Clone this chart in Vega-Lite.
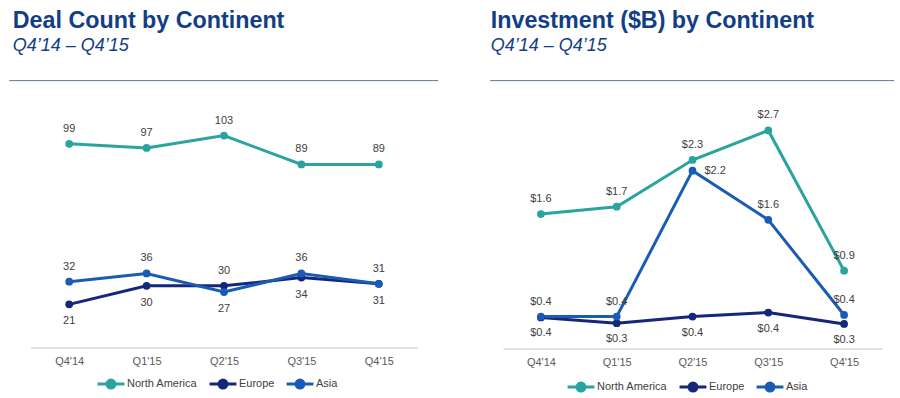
{
  "$schema": "https://vega.github.io/schema/vega-lite/v6.json",
  "background": "white",
  "padding": {"left": 8, "top": 8.6, "right": 5, "bottom": 0},
  "config": {
    "view": {"stroke": null},
    "font": "Liberation Sans",
    "title": {"anchor": "start", "fontSize": 23.3, "fontWeight": "bold", "color": "#123E85", "subtitleFontSize": 18, "subtitleFontStyle": "italic", "subtitleColor": "#123E85", "subtitlePadding": 3.9, "offset": 24.2},
    "axisX": {"title": null, "domainColor": "#D9D9D9", "domainWidth": 1.5, "ticks": false, "labelColor": "#595959", "labelFontSize": 11, "labelPadding": 8, "labelAngle": 0, "grid": false},
    "legend": {"orient": "none", "direction": "horizontal", "title": null, "labelFontSize": 11, "labelColor": "#404040", "symbolType": "M-1.9,0L1.9,0M-0.57,0A0.57,0.57,0,1,0,0.57,0A0.57,0.57,0,1,0,-0.57,0Z", "symbolSize": 200, "symbolStrokeWidth": 3, "labelOffset": 7, "columnPadding": 5}
  },
  "datasets": {
    "deals": [
      {"quarter": "Q4'14", "continent": "North America", "value": 99},
      {"quarter": "Q1'15", "continent": "North America", "value": 97},
      {"quarter": "Q2'15", "continent": "North America", "value": 103},
      {"quarter": "Q3'15", "continent": "North America", "value": 89},
      {"quarter": "Q4'15", "continent": "North America", "value": 89},
      {"quarter": "Q4'14", "continent": "Europe", "value": 21},
      {"quarter": "Q1'15", "continent": "Europe", "value": 30},
      {"quarter": "Q2'15", "continent": "Europe", "value": 30},
      {"quarter": "Q3'15", "continent": "Europe", "value": 34},
      {"quarter": "Q4'15", "continent": "Europe", "value": 31},
      {"quarter": "Q4'14", "continent": "Asia", "value": 32},
      {"quarter": "Q1'15", "continent": "Asia", "value": 36},
      {"quarter": "Q2'15", "continent": "Asia", "value": 27},
      {"quarter": "Q3'15", "continent": "Asia", "value": 36},
      {"quarter": "Q4'15", "continent": "Asia", "value": 31}
    ],
    "invest": [
      {"quarter": "Q4'14", "continent": "North America", "value": 1.64},
      {"quarter": "Q1'15", "continent": "North America", "value": 1.73},
      {"quarter": "Q2'15", "continent": "North America", "value": 2.30},
      {"quarter": "Q3'15", "continent": "North America", "value": 2.66},
      {"quarter": "Q4'15", "continent": "North America", "value": 0.95},
      {"quarter": "Q4'14", "continent": "Europe", "value": 0.38},
      {"quarter": "Q1'15", "continent": "Europe", "value": 0.31},
      {"quarter": "Q2'15", "continent": "Europe", "value": 0.39},
      {"quarter": "Q3'15", "continent": "Europe", "value": 0.44},
      {"quarter": "Q4'15", "continent": "Europe", "value": 0.30},
      {"quarter": "Q4'14", "continent": "Asia", "value": 0.39},
      {"quarter": "Q1'15", "continent": "Asia", "value": 0.39},
      {"quarter": "Q2'15", "continent": "Asia", "value": 2.17},
      {"quarter": "Q3'15", "continent": "Asia", "value": 1.57},
      {"quarter": "Q4'15", "continent": "Asia", "value": 0.41}
    ]
  },
  "spacing": 50,
  "resolve": {"scale": {"color": "independent", "x": "independent", "y": "independent"}, "legend": {"color": "independent"}},
  "hconcat": [
    {
      "spacing": 19,
      "center": true,
      "resolve": {"scale": {"x": "independent", "y": "independent"}},
      "vconcat": [
        {
          "width": 429, "height": 1,
          "title": {"text": "Deal Count by Continent", "subtitle": "Q4’14 – Q4’15", "dx": 4},
          "data": {"values": [{}]},
          "mark": {"type": "rule", "color": "#5F7798", "strokeWidth": 1},
          "encoding": {"y": {"datum": 1, "type": "quantitative", "scale": {"domain": [0, 1]}, "axis": null}}
        },
        {
          "width": 387, "height": 247,
          "data": {"name": "deals"},
          "encoding": {
            "x": {"field": "quarter", "type": "ordinal", "sort": ["Q4'14", "Q1'15", "Q2'15", "Q3'15", "Q4'15"]},
            "y": {"field": "value", "type": "quantitative", "scale": {"domain": [0, 120]}, "axis": null},
            "color": {"field": "continent", "type": "nominal", "scale": {"domain": ["North America", "Europe", "Asia"], "range": ["#2BA3A0", "#14277A", "#1A5BB5"]}, "legend": {"legendX": 93, "legendY": 294}}
          },
          "layer": [
            {"mark": {"type": "line", "strokeWidth": 3}},
            {"mark": {"type": "circle", "size": 60, "opacity": 1}},
            {
              "transform": [{"filter": "datum.continent == 'North America' || (datum.continent == 'Asia' && datum.quarter != \"Q2'15\") || (datum.continent == 'Europe' && datum.quarter == \"Q2'15\")"}],
              "mark": {"type": "text", "dy": -15, "fontSize": 11, "color": "#404040"},
              "encoding": {"text": {"field": "value", "type": "quantitative"}, "color": {"value": "#404040"}}
            },
            {
              "transform": [{"filter": "(datum.continent == 'Europe' && datum.quarter != \"Q2'15\") || (datum.continent == 'Asia' && datum.quarter == \"Q2'15\")"}],
              "mark": {"type": "text", "dy": 17, "fontSize": 11, "color": "#404040"},
              "encoding": {"text": {"field": "value", "type": "quantitative"}, "color": {"value": "#404040"}}
            }
          ]
        }
      ]
    },
    {
      "spacing": 21,
      "center": true,
      "resolve": {"scale": {"x": "independent", "y": "independent"}},
      "vconcat": [
        {
          "width": 404, "height": 1,
          "title": {"text": "Investment ($B) by Continent", "subtitle": "Q4’14 – Q4’15", "dx": 1},
          "data": {"values": [{}]},
          "mark": {"type": "rule", "color": "#5F7798", "strokeWidth": 1},
          "encoding": {"y": {"datum": 1, "type": "quantitative", "scale": {"domain": [0, 1]}, "axis": null}}
        },
        {
          "width": 379, "height": 246,
          "data": {"name": "invest"},
          "encoding": {
            "x": {"field": "quarter", "type": "ordinal", "sort": ["Q4'14", "Q1'15", "Q2'15", "Q3'15", "Q4'15"]},
            "y": {"field": "value", "type": "quantitative", "scale": {"domain": [0, 3]}, "axis": null},
            "color": {"field": "continent", "type": "nominal", "scale": {"domain": ["North America", "Europe", "Asia"], "range": ["#2BA3A0", "#14277A", "#1A5BB5"]}, "legend": {"legendX": 82, "legendY": 297}}
          },
          "layer": [
            {"mark": {"type": "line", "strokeWidth": 3}},
            {"mark": {"type": "circle", "size": 60, "opacity": 1}},
            {
              "transform": [{"filter": "datum.continent == 'North America' || (datum.continent == 'Asia' && datum.quarter != \"Q2'15\")"}],
              "mark": {"type": "text", "dy": -15, "fontSize": 11, "color": "#404040"},
              "encoding": {"text": {"field": "value", "type": "quantitative", "format": "$.1f"}, "color": {"value": "#404040"}}
            },
            {
              "transform": [{"filter": "datum.continent == 'Asia' && datum.quarter == \"Q2'15\""}],
              "mark": {"type": "text", "dx": 12, "align": "left", "fontSize": 11, "color": "#404040"},
              "encoding": {"text": {"field": "value", "type": "quantitative", "format": "$.1f"}, "color": {"value": "#404040"}}
            },
            {
              "transform": [{"filter": "datum.continent == 'Europe'"}],
              "mark": {"type": "text", "dy": 16, "fontSize": 11, "color": "#404040"},
              "encoding": {"text": {"field": "value", "type": "quantitative", "format": "$.1f"}, "color": {"value": "#404040"}}
            }
          ]
        }
      ]
    }
  ]
}
